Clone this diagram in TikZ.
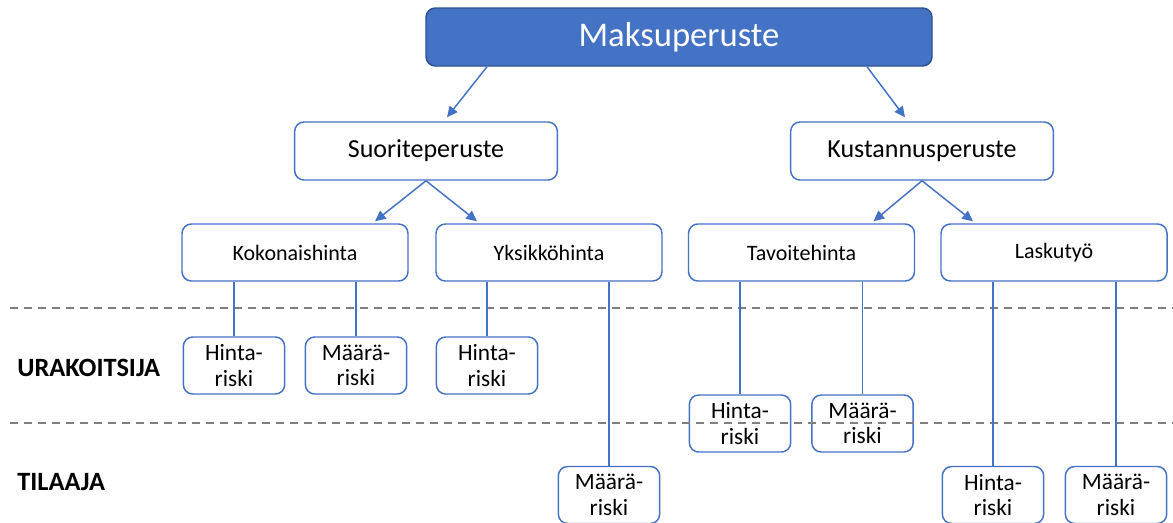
\documentclass[tikz,border=0pt]{standalone}
\usepackage{fontspec}
\setmainfont{Carlito}
\usetikzlibrary{calc,arrows.meta}
\definecolor{accent}{HTML}{4472C4}
\definecolor{accentdark}{HTML}{2F528F}
\definecolor{dashgrey}{HTML}{7F7F7F}
\tikzset{
  topbox/.style={draw=accentdark, fill=accent, line width=1.1pt, rounded corners=7pt,
    minimum width=379.5pt, minimum height=43.5pt, text=white, font=\fontsize{26}{30}\selectfont},
  midbox/.style={draw=accent, line width=1.1pt, rounded corners=7pt,
    minimum width=197pt, minimum height=43.5pt, font=\fontsize{19.5}{23}\selectfont},
  lowbox/.style={draw=accent, line width=1.1pt, rounded corners=7pt,
    minimum width=169.5pt, minimum height=42.75pt, font=\fontsize{16.5}{19}\selectfont},
  riskbox/.style={draw=accent, line width=1.1pt, rounded corners=7pt,
    minimum width=76pt, minimum height=42.75pt, align=center, inner sep=0pt,
    font=\fontsize{17.5}{19}\selectfont},
  arr/.style={draw=accent, line width=1.1pt, -{Triangle[length=8pt,width=7.5pt]}},
  link/.style={draw=accent, line width=1.1pt},
  sep/.style={draw=dashgrey, line width=1.1pt, dash pattern=on 6pt off 4.5pt},
  side/.style={font=\bfseries\fontsize{19.8}{23}\selectfont, anchor=west, inner sep=0pt}
}
\begin{document}
\begin{tikzpicture}[x=0.75pt,y=-0.75pt]
\clip (0,0) rectangle (1173,522);
\fill[white] (0,0) rectangle (1173,522);

\node[topbox] (mak) at (679,37) {Maksuperuste};
\node[midbox] (suo) at (426,151) {Suoriteperuste};
\node[midbox] (kus) at (922,151) {Kustannusperuste};

\node[lowbox] (kok) at (295,252.5) {Kokonaishinta};
\node[lowbox] (yks) at (549,252.5) {Yksikköhinta};
\node[lowbox] (tav) at (801.5,252.5) {Tavoitehinta};
\node[lowbox] (las) at (1054,252.5) {Laskutyö};

\node[riskbox] (hr1) at (234,365.5) {Hinta-\\riski};
\node[riskbox] (mr1) at (356,365.5) {Määrä-\\riski};
\node[riskbox] (hr2) at (487,365.5) {Hinta-\\riski};
\node[riskbox] (mr2) at (609,495) {Määrä-\\riski};
\node[riskbox] (ht) at (740,423.5) {Hinta-\\riski};
\node[riskbox] (mt) at (862.5,423.5) {Määrä-\\riski};
\node[riskbox] (hl) at (993,495) {Hinta-\\riski};
\node[riskbox] (ml) at (1116,495) {Määrä-\\riski};

\node[side] (urak) at (17,368) {URAKOITSIJA};
\node[side] (til) at (17,482) {TILAAJA};

\draw[sep] (10,308) -- (1173,308);
\draw[sep] (10,423) -- (1173,423);

\draw[arr] ($(mak.south)+(-192,0)$) -- ($(suo.north)+(21,-4)$);
\draw[arr] ($(mak.south)+(188,0)$) -- ($(kus.north)+(-17,-4)$);
\draw[arr] (suo.south) -- ($(kok.north)+(80,-2)$);
\draw[arr] (suo.south) -- ($(yks.north)+(-72,-2)$);
\draw[arr] (kus.south) -- ($(tav.north)+(72,-2)$);
\draw[arr] (kus.south) -- ($(las.north)+(-81,-2)$);

\draw[link] (kok.south -| hr1.north) -- (hr1.north);
\draw[link] (kok.south -| mr1.north) -- (mr1.north);
\draw[link] (yks.south -| hr2.north) -- (hr2.north);
\draw[link] (yks.south -| mr2.north) -- (mr2.north);
\draw[link] (tav.south -| ht.north) -- (ht.north);
\draw[link] (tav.south -| mt.north) -- (mt.north);
\draw[link] (las.south -| hl.north) -- (hl.north);
\draw[link] (las.south -| ml.north) -- (ml.north);
\end{tikzpicture}
\end{document}
